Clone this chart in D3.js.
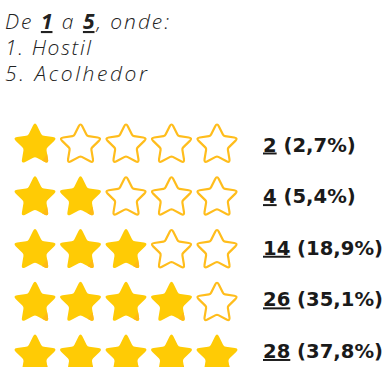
<!DOCTYPE html>
<html>
<head>
<meta charset="utf-8">
<script src="https://cdn.jsdelivr.net/npm/d3@7"></script>
<style>
  html, body { margin: 0; padding: 0; background: #fff; }
  svg { display: block; }
</style>
</head>
<body>
<svg id="chart" width="386" height="367"></svg>
<script>
// Ratings (number of stars) and how many answers each received
const ratings = [1, 2, 3, 4, 5];
const counts = [2, 4, 14, 26, 28];
const percentLabels = ["2,7%", "5,4%", "18,9%", "35,1%", "37,8%"];
const slots = [1, 2, 3, 4, 5];

const W = 386, H = 367;
const svg = d3.select("#chart");

// Header text, one text element per line
const headFont = sel => sel
  .attr("font-family", "'Open Sans', Lato, sans-serif")
  .attr("font-style", "italic")
  .attr("font-weight", 300)
  .attr("font-size", 21)
  .attr("fill", "#222");

const l1 = svg.append("text").call(headFont)
  .attr("x", 5).attr("y", 29)
  .attr("textLength", 164).attr("lengthAdjust", "spacing");
l1.append("tspan").text("De ");
l1.append("tspan").attr("font-weight", 700).style("text-decoration", "underline").text("1");
l1.append("tspan").text(" a ");
l1.append("tspan").attr("font-weight", 700).style("text-decoration", "underline").text("5");
l1.append("tspan").text(", onde:");

svg.append("text").call(headFont)
  .attr("x", 5).attr("y", 55)
  .attr("textLength", 86).attr("lengthAdjust", "spacing")
  .text("1. Hostil");
svg.append("text").call(headFont)
  .attr("x", 5).attr("y", 81)
  .attr("textLength", 142).attr("lengthAdjust", "spacing")
  .text("5. Acolhedor");

// Scales
const x = d3.scalePoint().domain(slots).range([35, 217]);
const y = d3.scalePoint().domain(ratings).range([145, 356]);
const yLabel = d3.scalePoint().domain(ratings).range([151.5, 358]);

// Rounded five-point star path centred on (0,0)
function starPath(R, r, dOuter, dInner) {
  const pts = d3.range(10).map(i => {
    const a = -Math.PI / 2 + i * Math.PI / 5;
    const rad = i % 2 === 0 ? R : r;
    return [rad * Math.cos(a), rad * Math.sin(a), i % 2 === 0 ? dOuter : dInner];
  });
  const n = pts.length;
  let p = "";
  pts.forEach((v, i) => {
    const prev = pts[(i + n - 1) % n], next = pts[(i + 1) % n];
    const lp = Math.hypot(prev[0] - v[0], prev[1] - v[1]);
    const ln = Math.hypot(next[0] - v[0], next[1] - v[1]);
    const a = [v[0] + (prev[0] - v[0]) * v[2] / lp, v[1] + (prev[1] - v[1]) * v[2] / lp];
    const b = [v[0] + (next[0] - v[0]) * v[2] / ln, v[1] + (next[1] - v[1]) * v[2] / ln];
    p += (i === 0 ? "M" : "L") + a[0].toFixed(2) + "," + a[1].toFixed(2) +
         "Q" + v[0].toFixed(2) + "," + v[1].toFixed(2) + " " + b[0].toFixed(2) + "," + b[1].toFixed(2);
  });
  return p + "Z";
}

const fullStar = starPath(23.5, 11.8, 4.5, 2);
const emptyStar = starPath(22.3, 11.2, 4, 1.5);

const defs = svg.append("defs");
defs.append("clipPath").attr("id", "starClip")
  .append("path").attr("d", fullStar);

const rows = svg.selectAll("g.row")
  .data(ratings.map((r, i) => ({ rating: r, count: counts[i], pct: percentLabels[i] })))
  .join("g")
  .attr("class", "row");

rows.each(function (d) {
  const g = d3.select(this);
  g.selectAll("g.star")
    .data(slots.map(s => ({ slot: s, filled: s <= d.rating })))
    .join("g")
    .attr("class", "star")
    .attr("transform", s => `translate(${x(s.slot)},${y(d.rating)})`)
    .each(function (s) {
      const sg = d3.select(this);
      if (s.filled) {
        sg.append("path").attr("d", fullStar).attr("fill", "#FFCB05");
        // darker lower-right facet
        sg.append("path")
          .attr("clip-path", "url(#starClip)")
          .attr("d", "M24,-6 L30,30 L-4,30 Z")
          .attr("fill", "#FFBA14");
      } else {
        sg.append("path").attr("d", emptyStar)
          .attr("fill", "#fff")
          .attr("stroke", "#FFBD1C")
          .attr("stroke-width", 2.2)
          .attr("stroke-linejoin", "round");
      }
    });

  const t = g.append("text")
    .attr("x", 263)
    .attr("y", yLabel(d.rating))
    .attr("font-family", "'DejaVu Sans', sans-serif")
    .attr("font-weight", 700)
    .attr("font-size", 19.6)
    .attr("fill", "#1a1a1a");
  t.append("tspan").style("text-decoration", "underline").text(d.count);
  t.append("tspan").text(" (" + d.pct + ")");
});
</script>
</body>
</html>
